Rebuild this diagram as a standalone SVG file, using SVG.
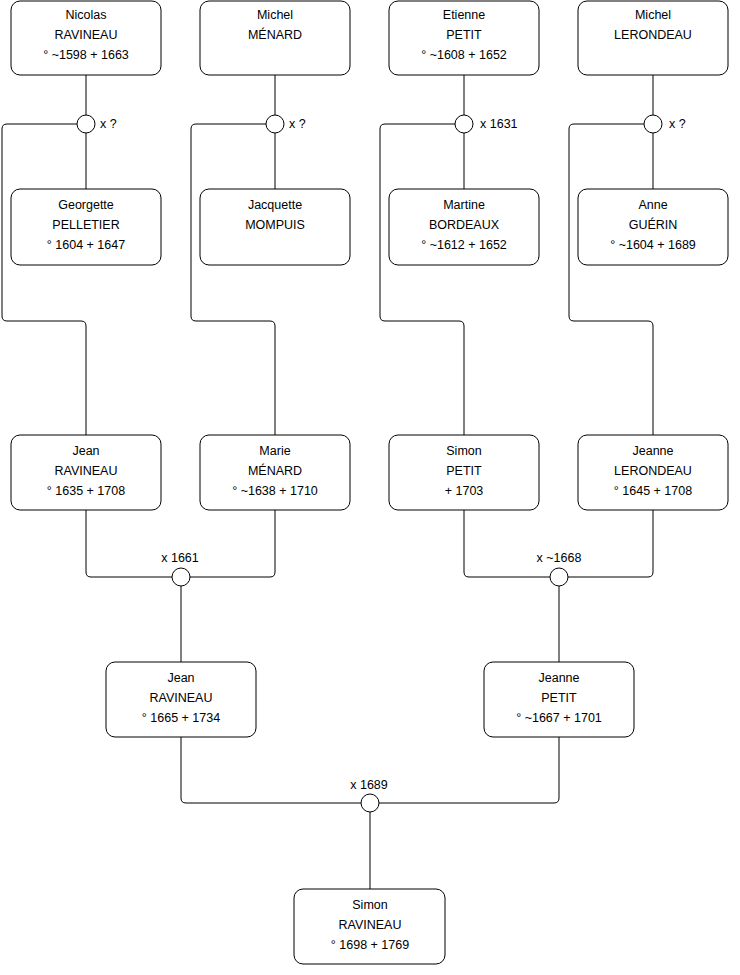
<svg xmlns="http://www.w3.org/2000/svg" width="740" height="975" viewBox="0 0 740 975">
<style>
.box{fill:#fff;stroke:#000;stroke-width:1}
.c{fill:#fff;stroke:#000;stroke-width:1}
.l{fill:none;stroke:#000;stroke-width:1}
text{font-family:"Liberation Sans",Arial,sans-serif;font-size:12.5px;fill:#000}
.m{text-anchor:middle}
</style>
<rect width="740" height="975" fill="#fff"/>
<g id="connectors">
<path class="l" d="M86 75V115M86 133V189"/>
<path class="l" d="M275 75V115M275 133V189"/>
<path class="l" d="M464 75V115M464 133V189"/>
<path class="l" d="M653 75V115M653 133V189"/>
<path class="l" d="M77 124H7Q2 124 2 129V316Q2 321 7 321H81Q86 321 86 326V435"/>
<path class="l" d="M266 124H196Q191 124 191 129V316Q191 321 196 321H270Q275 321 275 326V435"/>
<path class="l" d="M455 124H385Q380 124 380 129V316Q380 321 385 321H459Q464 321 464 326V435"/>
<path class="l" d="M644 124H574Q569 124 569 129V316Q569 321 574 321H648Q653 321 653 326V435"/>
<path class="l" d="M86 510V572Q86 577 91 577H172"/>
<path class="l" d="M275 510V572Q275 577 270 577H190"/>
<path class="l" d="M464 510V572Q464 577 469 577H550"/>
<path class="l" d="M653 510V572Q653 577 648 577H568"/>
<path class="l" d="M181 586V662M559 586V662"/>
<path class="l" d="M181 737V798Q181 803 186 803H361"/>
<path class="l" d="M559 737V798Q559 803 554 803H379"/>
<path class="l" d="M370 812V889"/>
</g>
<g id="u1"><circle class="c" cx="86" cy="124" r="9"/><text x="100" y="128">x ?</text></g>
<g id="u2"><circle class="c" cx="275" cy="124" r="9"/><text x="289" y="128">x ?</text></g>
<g id="u3"><circle class="c" cx="464" cy="124" r="9"/><text x="480" y="128">x 1631</text></g>
<g id="u4"><circle class="c" cx="653" cy="124" r="9"/><text x="669" y="128">x ?</text></g>
<g id="u5"><circle class="c" cx="181" cy="577" r="9"/><text class="m" x="180" y="562">x 1661</text></g>
<g id="u6"><circle class="c" cx="559" cy="577" r="9"/><text class="m" x="559" y="562">x ~1668</text></g>
<g id="u7"><circle class="c" cx="370" cy="803" r="9"/><text class="m" x="369" y="789">x 1689</text></g>
<g id="n1"><rect class="box" x="11" y="1" width="150" height="74" rx="9"/><text class="m" x="86" y="19">Nicolas</text><text class="m" x="86" y="39">RAVINEAU</text><text class="m" x="86" y="59">° ~1598 + 1663</text></g>
<g id="n2"><rect class="box" x="200" y="1" width="150" height="74" rx="9"/><text class="m" x="275" y="19">Michel</text><text class="m" x="275" y="39">MÉNARD</text></g>
<g id="n3"><rect class="box" x="389" y="1" width="150" height="74" rx="9"/><text class="m" x="464" y="19">Etienne</text><text class="m" x="464" y="39">PETIT</text><text class="m" x="464" y="59">° ~1608 + 1652</text></g>
<g id="n4"><rect class="box" x="578" y="1" width="150" height="74" rx="9"/><text class="m" x="653" y="19">Michel</text><text class="m" x="653" y="39">LERONDEAU</text></g>
<g id="n5"><rect class="box" x="11" y="189" width="150" height="76" rx="9"/><text class="m" x="86" y="209">Georgette</text><text class="m" x="86" y="229">PELLETIER</text><text class="m" x="86" y="249">° 1604 + 1647</text></g>
<g id="n6"><rect class="box" x="200" y="189" width="150" height="76" rx="9"/><text class="m" x="275" y="209">Jacquette</text><text class="m" x="275" y="229">MOMPUIS</text></g>
<g id="n7"><rect class="box" x="389" y="189" width="150" height="76" rx="9"/><text class="m" x="464" y="209">Martine</text><text class="m" x="464" y="229">BORDEAUX</text><text class="m" x="464" y="249">° ~1612 + 1652</text></g>
<g id="n8"><rect class="box" x="578" y="189" width="150" height="76" rx="9"/><text class="m" x="653" y="209">Anne</text><text class="m" x="653" y="229">GUÉRIN</text><text class="m" x="653" y="249">° ~1604 + 1689</text></g>
<g id="n9"><rect class="box" x="11" y="435" width="150" height="75" rx="9"/><text class="m" x="86" y="455">Jean</text><text class="m" x="86" y="475">RAVINEAU</text><text class="m" x="86" y="495">° 1635 + 1708</text></g>
<g id="n10"><rect class="box" x="200" y="435" width="150" height="75" rx="9"/><text class="m" x="275" y="455">Marie</text><text class="m" x="275" y="475">MÉNARD</text><text class="m" x="275" y="495">° ~1638 + 1710</text></g>
<g id="n11"><rect class="box" x="389" y="435" width="150" height="75" rx="9"/><text class="m" x="464" y="455">Simon</text><text class="m" x="464" y="475">PETIT</text><text class="m" x="464" y="495">+ 1703</text></g>
<g id="n12"><rect class="box" x="578" y="435" width="150" height="75" rx="9"/><text class="m" x="653" y="455">Jeanne</text><text class="m" x="653" y="475">LERONDEAU</text><text class="m" x="653" y="495">° 1645 + 1708</text></g>
<g id="n13"><rect class="box" x="106" y="662" width="150" height="75" rx="9"/><text class="m" x="181" y="682">Jean</text><text class="m" x="181" y="702">RAVINEAU</text><text class="m" x="181" y="722">° 1665 + 1734</text></g>
<g id="n14"><rect class="box" x="484" y="662" width="150" height="75" rx="9"/><text class="m" x="559" y="682">Jeanne</text><text class="m" x="559" y="702">PETIT</text><text class="m" x="559" y="722">° ~1667 + 1701</text></g>
<g id="n15"><rect class="box" x="294" y="889" width="151" height="75" rx="9"/><text class="m" x="370" y="909">Simon</text><text class="m" x="370" y="929">RAVINEAU</text><text class="m" x="370" y="949">° 1698 + 1769</text></g>
</svg>
